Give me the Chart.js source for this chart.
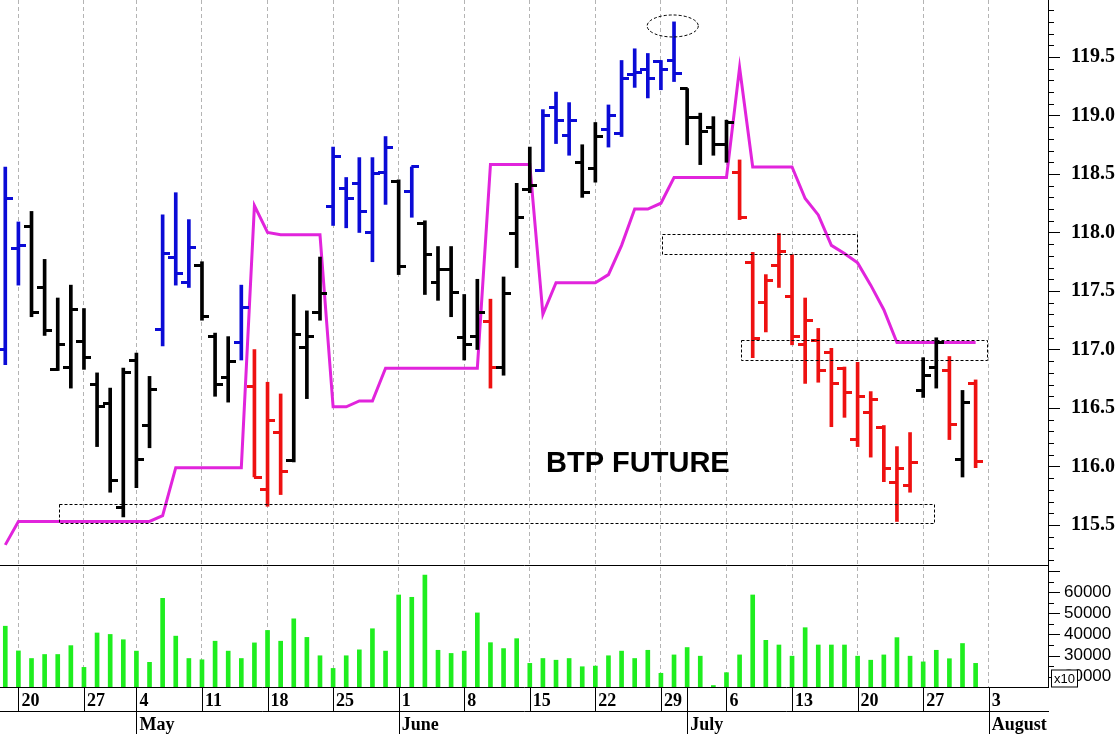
<!DOCTYPE html>
<html>
<head>
<meta charset="utf-8">
<title>BTP Future</title>
<script src="https://cdn.jsdelivr.net/npm/chart.js@4.4.1/dist/chart.umd.min.js"></script>
<style>
  html, body { margin: 0; padding: 0; background: #fff; }
</style>
</head>
<body>
<canvas id="chart" width="1119" height="734"></canvas>
<script>
// trading sessions 17 Apr .. 31 Jul, x = session number (0 .. 74)
const highs = [
  118.56, 118.09, 118.18, 117.77, 117.44, 117.55, 117.35, 116.80, 116.67, 116.84,
  116.97, 116.77, 118.15, 118.34, 118.11, 117.75, 117.14, 117.11, 117.55, 117.00,
  116.72, 116.62, 117.47, 117.33, 117.79, 118.73, 118.47, 118.64, 118.64, 118.82,
  118.45, 118.56, 118.10, 117.88, 117.88, 117.47, 117.60, 117.43, 117.62, 118.42,
  118.73, 119.05, 119.20, 119.11, 118.75, 118.94, 119.09, 119.47, 119.57, 119.53,
  119.47, 119.80, 119.23, 119.02, 118.99, 118.96, 118.62, 117.83, 117.64, 117.99,
  117.81, 117.44, 117.18, 117.01, 116.85, 116.89, 116.64, 116.35, 116.17, 116.29,
  116.93, 117.10, 116.94, 116.65, 116.74
];
const lows = [
  116.87, 117.55, 117.28, 117.12, 116.82, 116.67, 116.83, 116.17, 115.78, 115.57,
  115.82, 116.16, 117.03, 117.55, 117.53, 117.25, 116.60, 116.55, 116.91, 115.91,
  115.66, 115.76, 116.04, 116.58, 117.25, 118.06, 118.04, 118.00, 117.75, 118.24,
  117.64, 118.13, 117.47, 117.42, 117.28, 116.91, 117.00, 116.67, 116.78, 117.70,
  118.34, 118.52, 118.76, 118.66, 118.30, 118.43, 118.73, 118.82, 119.24, 119.15,
  119.22, 119.29, 118.75, 118.58, 118.66, 118.60, 118.11, 116.93, 117.15, 117.53,
  117.04, 116.71, 116.72, 116.34, 116.42, 116.17, 116.08, 115.87, 115.53, 115.78,
  116.59, 116.67, 116.23, 115.91, 115.99
];
const opens = [
  117.00, 117.86, 118.05, 117.53, 116.83, 116.85, 117.07, 116.70, 116.54, 115.65,
  116.91, 116.35, 117.17, 117.79, 117.57, 117.72, 117.11, 116.76, 117.06, 116.68,
  115.80, 116.29, 116.05, 117.02, 117.32, 118.22, 118.38, 118.42, 118.00, 118.51,
  118.44, 118.35, 118.08, 117.57, 117.68, 117.10, 117.11, 117.24, 116.85, 117.99,
  118.37, 118.53, 119.07, 118.83, 118.60, 118.55, 118.88, 118.85, 119.35, 119.39,
  119.46, 119.47, 119.23, 118.98, 118.90, 118.75, 118.51, 117.74, 117.40, 117.72,
  117.45, 117.04, 117.08, 116.97, 116.84, 116.23, 116.46, 116.33, 115.86, 115.84,
  116.65, 116.85, 116.82, 116.06, 116.71
];
const closes = [
  118.29, 117.89, 117.32, 117.16, 117.04, 117.34, 116.93, 116.51, 115.88, 116.80,
  116.06, 116.66, 117.82, 117.65, 117.87, 117.28, 116.70, 116.90, 117.36, 115.91,
  116.39, 115.96, 117.13, 117.11, 117.48, 118.65, 118.29, 118.18, 118.50, 118.73,
  117.71, 118.56, 117.81, 117.68, 117.49, 117.04, 117.32, 116.85, 117.48, 118.13,
  118.40, 119.00, 118.96, 118.96, 118.34, 118.82, 119.00, 119.32, 119.37, 119.32,
  119.39, 119.36, 118.98, 118.86, 118.75, 118.94, 118.13, 117.09, 117.59, 117.84,
  117.11, 117.25, 116.82, 116.71, 116.63, 116.60, 116.57, 115.98, 115.98, 116.03,
  116.78, 117.06, 116.36, 116.55, 116.04
];
// trend state of each session: b = up, k = neutral, r = down
const trend = [
  'b','b','k','k','k','k','k','k','k','k',
  'k','k','b','b','b','k','k','k','b','r',
  'r','r','k','k','k','b','b','b','b','b',
  'k','b','k','k','k','k','k','r','k','k',
  'k','b','b','b','k','k','b','b','b','b',
  'b','b','k','k','k','k','r','r','r','r',
  'r','r','r','r','r','r','r','r','r','r',
  'k','k','r','k','r'
];
const stopLine = [
  115.33, 115.53, 115.53, 115.53, 115.53, 115.53, 115.53, 115.53, 115.53, 115.53,
  115.53, 115.53, 115.58, 115.99, 115.99, 115.99, 115.99, 115.99, 115.99, 118.23,
  118.00, 117.98, 117.98, 117.98, 117.98, 116.51, 116.51, 116.56, 116.56, 116.84,
  116.84, 116.84, 116.84, 116.84, 116.84, 116.84, 116.84, 118.58, 118.58, 118.58,
  118.58, 117.30, 117.57, 117.57, 117.57, 117.57, 117.64, 117.89, 118.20, 118.20,
  118.25, 118.47, 118.47, 118.47, 118.47, 118.47, 119.41, 118.56, 118.56, 118.56,
  118.56, 118.29, 118.15, 117.89, 117.82, 117.74, 117.55, 117.34, 117.06, 117.06,
  117.06, 117.06, 117.06, 117.06, 117.06
];
const volumes = [
  43900, 32200, 28600, 30500, 30500, 34700, 24400, 40700, 40000, 37500,
  32100, 26800, 57100, 39200, 28600, 28000, 36800, 32100, 28600, 36000,
  41900, 36800, 47400, 38600, 29900, 23900, 29900, 32700, 42700, 32100,
  58700, 57600, 68100, 32500, 31000, 32100, 50200, 36100, 33300, 38000,
  26300, 28600, 27800, 28600, 24700, 25000, 29900, 32100, 28600, 32500,
  21600, 30300, 33800, 29700, 15800, 21900, 30300, 58700, 37200, 35000,
  29700, 43200, 35000, 35000, 35000, 29700, 27800, 30300, 38500, 29700,
  27000, 32500, 28500, 35700, 26300
];

// axis labels
const weekStarts = [1, 6, 10, 15, 20, 25, 30, 35, 40, 45, 50, 55, 60, 65, 70, 75];
const weekLabels = ['20', '27', '4', '11', '18', '25', '1', '8', '15', '22', '29', '6', '13', '20', '27', '3'];
const monthStarts = [10, 30, 52, 75];
const monthLabels = ['May', 'June', 'July', 'August'];
const priceTicks = [115.5, 116.0, 116.5, 117.0, 117.5, 118.0, 118.5, 119.0, 119.5];
const volumeTicks = [20000, 30000, 40000, 50000, 60000];

// marked zones: session range and price range
const zones = [
  { from: 4.1, to: 70.85, lo: 115.514, hi: 115.677 },
  { from: 50.11, to: 64.93, lo: 117.816, hi: 117.985 },
  { from: 56.09, to: 74.87, lo: 116.906, hi: 117.081 }
];
const peakMark = { x: 50.9, y: 119.765, dx: 1.95, dy: 0.094 };
const title = { text: 'BTP FUTURE', x: 41.24, y: 115.953 };

const colors = { b: '#0b0bd6', k: '#000000', r: '#ee1111' };

function tickImage(color, side) {
  const c = document.createElement('canvas');
  c.width = 15;
  c.height = 3;
  const g = c.getContext('2d');
  g.fillStyle = color;
  g.fillRect(side === 'open' ? 0 : 7, 0, 8, 3);
  return c;
}
const openImgs = {}, closeImgs = {};
Object.keys(colors).forEach(k => {
  openImgs[k] = tickImage(colors[k], 'open');
  closeImgs[k] = tickImage(colors[k], 'close');
});

const axisTicks = Array.from(new Set(weekStarts.concat(monthStarts))).sort((a, b) => a - b);
function dateLabel(v) {
  const w = weekStarts.indexOf(v), m = monthStarts.indexOf(v);
  return [w >= 0 ? weekLabels[w] : '', m >= 0 ? monthLabels[m] : ''];
}

const px = v => Math.round(v) + 0.5;

// right axes: fixed width, no label overflow padding
const fitRight = s => { s.width = 71; s.paddingTop = 0; s.paddingBottom = 0; };

const overlay = {
  id: 'overlay',
  afterDraw(chart) {
    const { ctx, chartArea: a, scales: { x, y, yv } } = chart;
    ctx.save();
    ctx.strokeStyle = '#000';
    ctx.lineWidth = 1;
    ctx.setLineDash([]);
    const line = (x0, y0, x1, y1) => {
      ctx.beginPath(); ctx.moveTo(x0, y0); ctx.lineTo(x1, y1); ctx.stroke();
    };
    // panel and date row frames
    const rowMid = a.bottom + 24;
    line(a.left, px(y.bottom), a.right + 1, px(y.bottom));
    line(a.left, px(a.bottom), a.right + 1, px(a.bottom));
    line(a.left, px(rowMid), a.right + 1, px(rowMid));
    weekStarts.forEach(i => {
      const xx = px(x.getPixelForValue(i));
      line(xx, a.bottom, xx, rowMid);
    });
    monthStarts.forEach(i => {
      const xx = px(x.getPixelForValue(i));
      line(xx, a.bottom, xx, chart.height);
    });
    // right axis tick marks
    const r = px(a.right) - 0.5;
    for (let k = 1152; k <= 1199; k++) {
      const yy = px(y.getPixelForValue(k / 10));
      line(r, yy, r + (k % 5 === 0 ? 12 : 6), yy);
    }
    for (let k = 4; k <= 14; k++) {
      const yy = px(yv.getPixelForValue(k * 5000));
      line(r, yy, r + (k % 2 === 0 ? 12 : 6), yy);
    }
    // scale factor box
    const bx = r + 3, by = px(yv.bottom) - 18;
    ctx.fillStyle = '#fff';
    ctx.fillRect(bx, by, 26, 17);
    ctx.strokeRect(bx + 0.5, by + 0.5, 26, 17);
    ctx.fillStyle = '#000';
    ctx.font = '13px "Liberation Sans"';
    ctx.textBaseline = 'middle';
    ctx.textAlign = 'left';
    ctx.fillText('x10', bx + 3, by + 9.5);

    // dotted zones and peak marker
    ctx.setLineDash([3, 2]);
    zones.forEach(z => {
      const x0 = px(x.getPixelForValue(z.from)), x1 = px(x.getPixelForValue(z.to));
      const y0 = px(y.getPixelForValue(z.hi)), y1 = px(y.getPixelForValue(z.lo));
      ctx.strokeRect(x0, y0, x1 - x0, y1 - y0);
    });
    const cx = x.getPixelForValue(peakMark.x), cy = y.getPixelForValue(peakMark.y);
    const rx = x.getPixelForValue(peakMark.x + peakMark.dx) - cx;
    const ry = cy - y.getPixelForValue(peakMark.y + peakMark.dy);
    ctx.beginPath();
    ctx.ellipse(cx, cy, rx, ry, 0, 0, Math.PI * 2);
    ctx.stroke();
    ctx.setLineDash([]);

    ctx.font = 'bold 29px "Liberation Sans"';
    ctx.textBaseline = 'alphabetic';
    ctx.fillText(title.text, x.getPixelForValue(title.x), y.getPixelForValue(title.y));
    ctx.restore();
  }
};

const sessions = highs.map((_, i) => i);

new Chart(document.getElementById('chart'), {
  type: 'bar',
  data: {
    datasets: [
      {
        type: 'scatter',
        data: sessions.map(i => ({ x: i, y: opens[i] })),
        pointStyle: c => openImgs[trend[c.dataIndex]],
        pointRadius: 3,
        yAxisID: 'y',
        order: 0
      },
      {
        type: 'scatter',
        data: sessions.map(i => ({ x: i, y: closes[i] })),
        pointStyle: c => closeImgs[trend[c.dataIndex]],
        pointRadius: 3,
        yAxisID: 'y',
        order: 0
      },
      {
        type: 'bar',
        data: sessions.map(i => ({ x: i, y: [lows[i], highs[i]] })),
        backgroundColor: sessions.map(i => colors[trend[i]]),
        barThickness: 3,
        grouped: false,
        yAxisID: 'y',
        order: 1
      },
      {
        type: 'line',
        data: sessions.map(i => ({ x: i, y: stopLine[i] })),
        borderColor: '#e124dc',
        borderWidth: 3,
        pointRadius: 0,
        tension: 0,
        yAxisID: 'y',
        order: 2
      },
      {
        type: 'bar',
        data: sessions.map(i => ({ x: i, y: volumes[i] })),
        backgroundColor: '#1fee1f',
        barThickness: 4,
        grouped: false,
        yAxisID: 'yv',
        order: 3
      }
    ]
  },
  options: {
    responsive: false,
    animation: false,
    layout: { padding: 0, autoPadding: false },
    plugins: { legend: { display: false }, tooltip: { enabled: false } },
    scales: {
      x: {
        type: 'linear',
        position: 'bottom',
        min: -0.403,
        max: 79.52,
        offset: false,
        afterBuildTicks: s => { s.ticks = axisTicks.map(v => ({ value: v })); },
        afterFit: s => { s.height = 47; s.paddingLeft = 0; s.paddingRight = 0; },
        grid: {
          offset: false,
          drawTicks: false,
          tickLength: 0,
          lineWidth: 1,
          color: c => (c.tick && c.tick.value === 52) ? 'rgba(0,0,0,0)' : '#b4b4b4'
        },
        border: { display: false, dash: [4, 3] },
        ticks: {
          autoSkip: false,
          maxRotation: 0,
          align: 'start',
          labelOffset: 3,
          padding: 2,
          color: '#000',
          font: { family: 'Liberation Serif', size: 18, weight: 'bold', lineHeight: 1.35 },
          callback: v => dateLabel(v)
        }
      },
      y: {
        type: 'linear',
        position: 'right',
        stack: 'panes',
        stackWeight: 565,
        min: 115.158,
        max: 119.987,
        afterBuildTicks: s => { s.ticks = priceTicks.map(v => ({ value: v })); },
        afterFit: fitRight,
        grid: { display: false, drawTicks: false, tickLength: 0 },
        border: { display: true, color: '#000', width: 1 },
        ticks: {
          autoSkip: false,
          padding: 23,
          color: '#000',
          font: { family: 'Liberation Serif', size: 20, weight: 'bold' },
          callback: v => v.toFixed(1)
        }
      },
      yv: {
        type: 'linear',
        position: 'right',
        stack: 'panes',
        stackWeight: 122,
        min: 15100,
        max: 72900,
        afterBuildTicks: s => { s.ticks = volumeTicks.map(v => ({ value: v })); },
        afterFit: fitRight,
        grid: { display: false, drawTicks: false, tickLength: 0 },
        border: { display: true, color: '#000', width: 1 },
        ticks: {
          autoSkip: false,
          padding: 16,
          color: '#000',
          font: { family: 'Liberation Sans', size: 17 },
          callback: v => String(v)
        }
      }
    }
  },
  plugins: [overlay]
});
</script>
</body>
</html>
